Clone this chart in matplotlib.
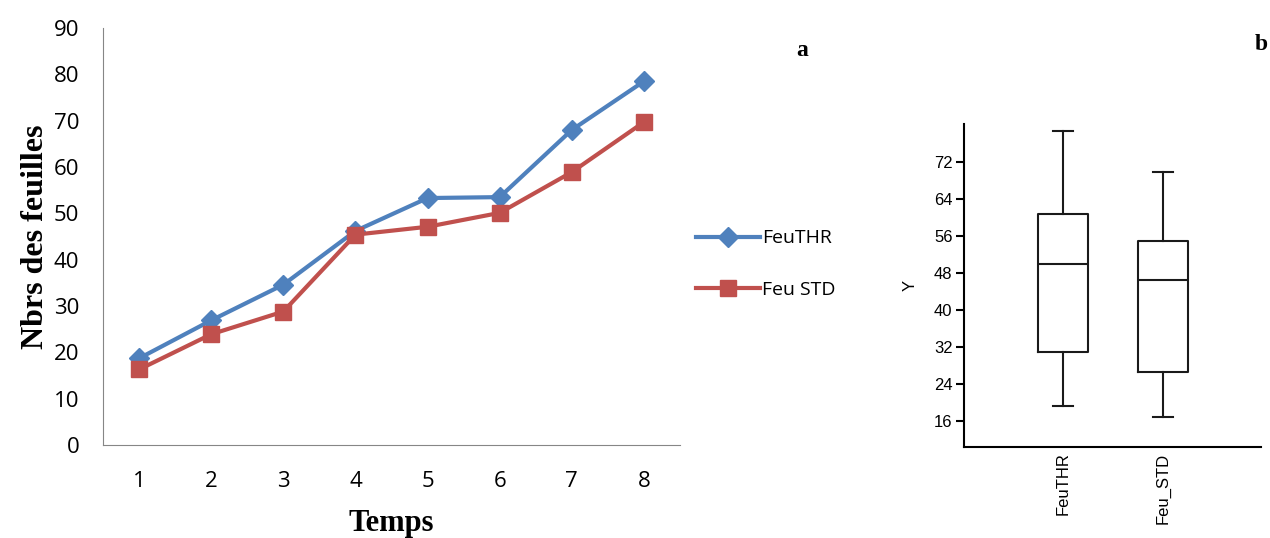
import matplotlib
matplotlib.use('Agg')
import matplotlib.pyplot as plt

# line chart data (a)
temps = [1, 2, 3, 4, 5, 6, 7, 8]
feu_thr = [18.7, 26.9, 34.6, 46.2, 53.3, 53.5, 68.0, 78.5]
feu_std = [16.3, 23.9, 28.8, 45.4, 47.1, 50.1, 58.9, 69.7]

# box plot summary (b)
box_labels = ['FeuTHR', 'Feu_STD']
box_low = [19.2, 16.8]
box_q1 = [30.8, 26.5]
box_med = [49.9, 46.4]
box_q3 = [60.8, 54.9]
box_high = [78.7, 69.8]

blue = '#4F81BD'
red = '#C0504D'
grey = '#868686'

fig = plt.figure(figsize=(12.7, 5.38), dpi=100)

# ---- panel a ----
ax = fig.add_axes([103/1270, 93/538, 577/1270, 417/538])
ax.plot(temps, feu_thr, color=blue, lw=3, marker='D', ms=10, label='FeuTHR')
ax.plot(temps, feu_std, color=red, lw=3, marker='s', ms=12, label='Feu STD')
ax.set_xlim(0.5, 8.5)
ax.set_ylim(0, 90)
ax.set_xticks(temps)
ax.set_yticks(range(0, 91, 10))
for s in ['top', 'right']:
    ax.spines[s].set_visible(False)
for s in ['left', 'bottom']:
    ax.spines[s].set_color(grey)
ax.tick_params(length=0, labelsize=16)
for t in ax.get_xticklabels() + ax.get_yticklabels():
    t.set_family('Open Sans')
ax.tick_params(axis='x', pad=19)
ax.tick_params(axis='y', pad=17)
ax.set_ylabel('Nbrs des feuilles', family='Liberation Serif', fontweight='bold',
              fontsize=23, labelpad=3)
ax.set_xlabel('Temps', family='Liberation Serif', fontweight='bold', fontsize=22,
              labelpad=12)
ax.legend(loc='center left', bbox_to_anchor=(1.0, 0.434), frameon=False,
          prop={'family': 'Open Sans', 'size': 14}, handlelength=3.3,
          labelspacing=1.7, handletextpad=0.1, borderaxespad=0.4)
fig.text(802/1270, 1 - 50/538, 'a', family='Liberation Serif', fontweight='bold',
         fontsize=17, ha='center', va='center')
fig.text(1261/1270, 1 - 45/538, 'b', family='Liberation Serif', fontweight='bold',
         fontsize=17, ha='center', va='center')

# ---- panel b ----
bx = fig.add_axes([963.7/1270, 91/538, 297/1270, 323/538])
stats = []
for i in range(len(box_labels)):
    stats.append({'label': box_labels[i], 'whislo': box_low[i], 'q1': box_q1[i],
                  'med': box_med[i], 'q3': box_q3[i], 'whishi': box_high[i],
                  'fliers': []})
lp = dict(color='#1a1a1a', lw=1.5)
bx.bxp(stats, positions=[1, 2], widths=0.5, capwidths=0.2, showfliers=False,
       boxprops=lp, whiskerprops=lp, capprops=lp, medianprops=lp)
bx.set_xlim(0.01, 2.98)
bx.set_ylim(10.3, 80.2)
bx.set_yticks(range(16, 73, 8))
for s in ['top', 'right']:
    bx.spines[s].set_visible(False)
for s in ['left', 'bottom']:
    bx.spines[s].set_linewidth(1.5)
bx.tick_params(axis='y', length=6, width=1.5, labelsize=12, pad=2)
bx.tick_params(axis='x', length=0, labelsize=12, labelrotation=90, pad=4)
for t in bx.get_xticklabels() + bx.get_yticklabels():
    t.set_family('Liberation Sans')
bx.set_ylabel('Y', family='Liberation Sans', fontsize=12, labelpad=12)

fig.savefig('out.png', dpi=100)
